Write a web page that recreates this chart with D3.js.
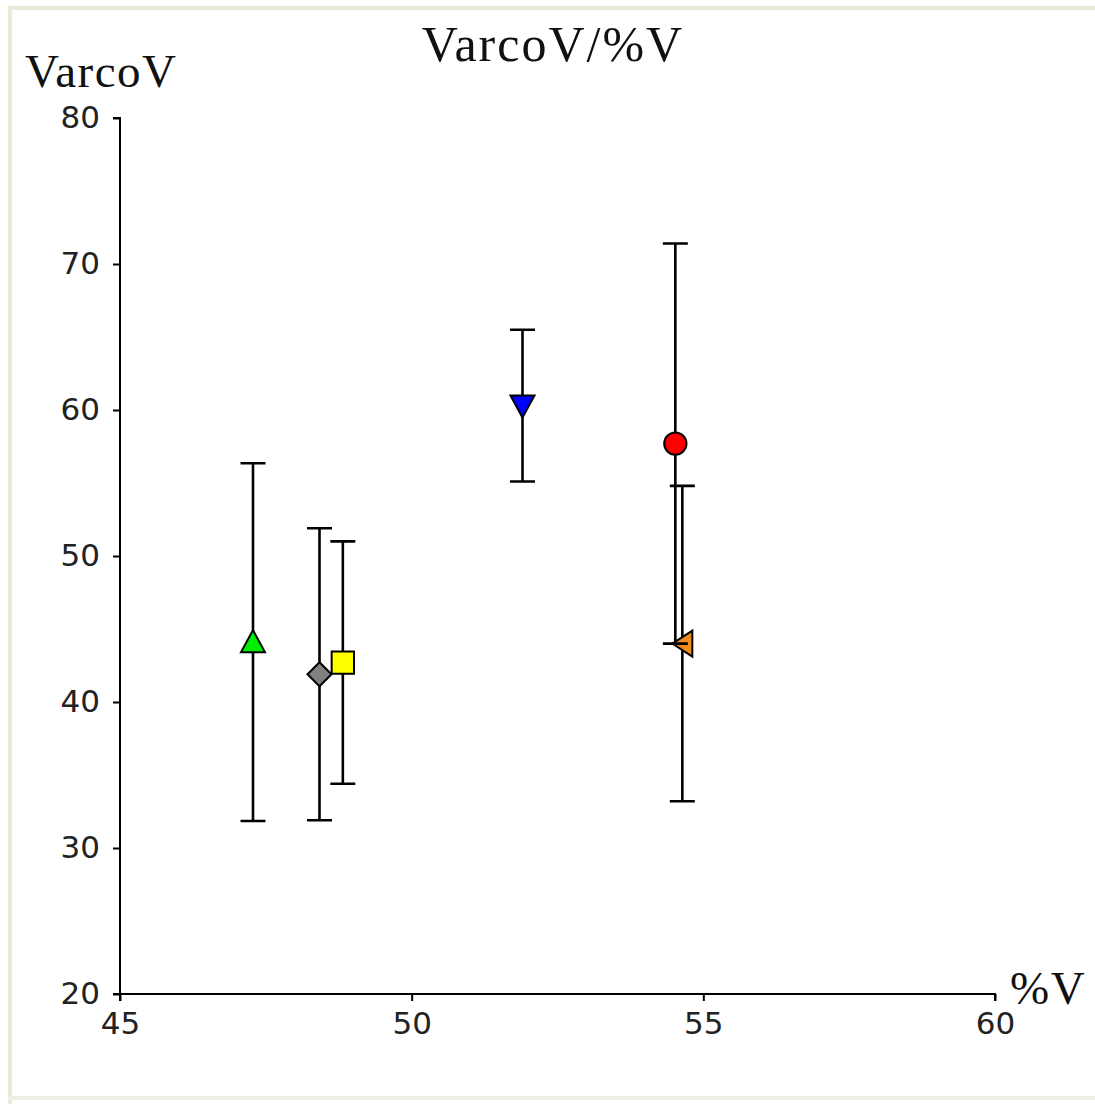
<!DOCTYPE html>
<html>
<head>
<meta charset="utf-8">
<script src="https://cdn.jsdelivr.net/npm/d3@7"></script>
<style>
  body { margin: 0; background: #fff; }
  svg { display: block; }
</style>
</head>
<body>
<svg class="Chart"></svg>
<script>
// series data
let names  = ["green", "gray", "yellow", "blue", "orange", "red"];
let pctV   = [47.28, 48.42, 48.82, 51.9, 54.64, 54.52];
let varcoV = [44.1, 41.9, 42.7, 60.3, 44.0, 57.7];
let errV   = [12.25, 10.0, 8.3, 5.2, 10.8, 13.7];
let shapes = ["triangleUp", "diamond", "square", "triangleDown", "triangleLeft", "circle"];
let fills  = ["#00ee00", "#808080", "#ffff00", "#0000ff", "#f08c1e", "#ff0000"];
let xTicks = [45, 50, 55, 60];
let yTicks = [20, 30, 40, 50, 60, 70, 80];

function drawChart(){
    let W = 1095, H = 1104;
    let margin = {top: 118, right: 100, bottom: 110, left: 120},
        width = 995 - margin.left,
        height = 994 - margin.top;

    let svg = d3.select(".Chart").attr("width", W).attr("height", H);

    // window frame
    svg.append("rect").attr("x", 0).attr("y", 0).attr("width", W).attr("height", H).style("fill", "#fff");
    svg.append("line").attr("x1", 8).attr("x2", W).attr("y1", 8).attr("y2", 8)
        .style("stroke", "#ece9d8").style("stroke-width", 4);
    svg.append("line").attr("x1", 10).attr("x2", 10).attr("y1", 8).attr("y2", H)
        .style("stroke", "#ece9d8").style("stroke-width", 4);
    svg.append("line").attr("x1", 8).attr("x2", W).attr("y1", 1098).attr("y2", 1098)
        .style("stroke", "#f1efe4").style("stroke-width", 4);

    let g = svg.append("g").attr("transform", "translate(" + margin.left + "," + margin.top + ")");

    let x = d3.scaleLinear().domain([45, 60]).range([0, width]),
        y = d3.scaleLinear().domain([20, 80]).range([height, 0]);

    let tickFont = "'DejaVu Sans', Verdana, sans-serif";

    g.append("g")
        .attr("transform", "translate(0," + height + ")")
        .call(d3.axisBottom(x).tickValues(xTicks).tickSize(7).tickPadding(11).tickFormat(d3.format("d")))
        .call(a => a.select(".domain").attr("d", "M0,7V0H" + width + "V7"))
        .call(a => a.selectAll("line, path").style("stroke", "#000").style("stroke-width", 2))
        .call(a => a.selectAll("text").style("font-family", tickFont).style("font-size", "31px").style("fill", "#222"));

    g.append("g")
        .call(d3.axisLeft(y).tickValues(yTicks).tickSize(7).tickPadding(13).tickFormat(d3.format("d")))
        .call(a => a.select(".domain").attr("d", "M-7,0H0V" + height + "H-7"))
        .call(a => a.selectAll("line, path").style("stroke", "#000").style("stroke-width", 2))
        .call(a => a.selectAll("text").style("font-family", tickFont).style("font-size", "31px").style("fill", "#222"));

    // titles
    let serif = "'Liberation Serif', 'Times New Roman', serif";
    svg.append("text").attr("x", 553).attr("y", 61).attr("text-anchor", "middle")
        .style("font-family", serif).style("font-size", "50px").style("letter-spacing", "2px")
        .style("fill", "#111").text("VarcoV/%V");
    svg.append("text").attr("x", 25).attr("y", 87)
        .style("font-family", serif).style("font-size", "47px").style("letter-spacing", "1.5px")
        .style("fill", "#111").text("VarcoV");
    svg.append("text").attr("x", 1010).attr("y", 1004)
        .style("font-family", serif).style("font-size", "47px").style("letter-spacing", "1.5px")
        .style("fill", "#111").text("%V");

    let pts = names.map((n, i) => ({name: n, x: pctV[i], y: varcoV[i], e: errV[i], shape: shapes[i], fill: fills[i]}));

    let symbolFor = {
        triangleUp: "M0,-12L12,10L-12,10Z",
        triangleDown: "M0,12L12,-10L-12,-10Z",
        triangleLeft: "M-10,0L10,-13L10,13Z",
        square: d3.symbol(d3.symbolSquare, 500)(),
        diamond: "M0,-12L12,0L0,12L-12,0Z",
        circle: d3.symbol(d3.symbolCircle, 390)()
    };

    let cap = 12.5;
    let pt = g.selectAll(".pt")
        .data(pts)
        .join("g")
        .attr("class", "pt");

    pt.append("path")
        .attr("d", d => {
            let px = x(d.x), hi = y(d.y + d.e), lo = y(d.y - d.e);
            return "M" + px + "," + hi + "V" + lo +
                "M" + (px - cap) + "," + hi + "H" + (px + cap) +
                "M" + (px - cap) + "," + lo + "H" + (px + cap);
        })
        .style("stroke", "#000").style("stroke-width", 2.6).style("fill", "none");

    pt.append("path")
        .attr("transform", d => "translate(" + x(d.x) + "," + y(d.y) + ")")
        .attr("d", d => symbolFor[d.shape])
        .style("fill", d => d.fill)
        .style("stroke", "#000")
        .style("stroke-width", 2);
}

drawChart();
</script>
</body>
</html>
